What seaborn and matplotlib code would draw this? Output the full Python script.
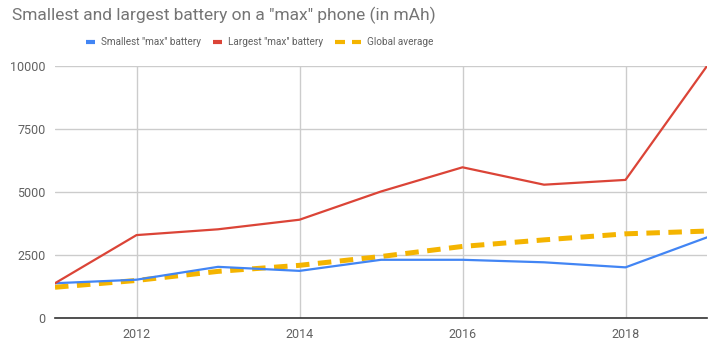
import matplotlib
matplotlib.use("Agg")
import matplotlib.pyplot as plt
import seaborn as sns
import pandas as pd
from matplotlib.lines import Line2D

years = [2011, 2012, 2013, 2014, 2015, 2016, 2017, 2018, 2019]
smallest = [1380, 1520, 2030, 1870, 2310, 2310, 2210, 2010, 3200]
largest = [1380, 3290, 3520, 3900, 5020, 5980, 5290, 5480, 10000]
global_avg = [1220, 1490, 1850, 2090, 2440, 2840, 3100, 3340, 3450]
series_names = ['Smallest "max" battery', 'Largest "max" battery', 'Global average']
y_ticks = [0, 2500, 5000, 7500, 10000]
x_ticks = [2012, 2014, 2016, 2018]

df = pd.DataFrame({
    "year": years * 3,
    "mah": smallest + largest + global_avg,
    "series": [series_names[0]] * len(years) + [series_names[1]] * len(years) + [series_names[2]] * len(years),
})

sns.set_theme(style="white")
plt.rcParams['font.family'] = ['Roboto', 'DejaVu Sans']

colors = {series_names[0]: "#4285F4", series_names[1]: "#DB4437", series_names[2]: "#F4B400"}

W, H = 727, 340
fig = plt.figure(figsize=(W / 100, H / 100), dpi=100)
ax = fig.add_axes([55 / W, 1 - 318 / H, (707 - 55) / W, (318 - 66) / H])

for name in series_names[:2]:
    sns.lineplot(data=df[df.series == name], x="year", y="mah", color=colors[name],
                 lw=1.6, ax=ax, legend=False)
sns.lineplot(data=df[df.series == series_names[2]], x="year", y="mah", color=colors[series_names[2]],
             lw=3.6, ax=ax, legend=False, zorder=1.5)
ax.lines[-1].set_dashes([2.7, 1.7])

ax.set_xlim(2011, 2019)
ax.set_ylim(0, 10000)
ax.set_xticks(x_ticks)
ax.set_xticklabels([str(x) for x in x_ticks])
ax.set_yticks(y_ticks)
ax.set_yticklabels([str(y) for y in y_ticks])
ax.grid(True, color="#cccccc", lw=1)
ax.set_axisbelow(True)
for s in ["left", "right", "top"]:
    ax.spines[s].set_visible(False)
ax.spines["bottom"].set_color("#333333")
ax.spines["bottom"].set_linewidth(1.2)
ax.tick_params(axis="both", length=0, labelsize=9, colors="#616161", pad=7)
ax.set_xlabel("")
ax.set_ylabel("")

fig.text(12 / W, 1 - 15 / H, 'Smallest and largest battery on a "max" phone (in mAh)',
         fontsize=12.5, color="#757575", va="center", ha="left")

# legend (manual, centred like the reference)
ly = 1 - 42 / H
renderer = fig.canvas.get_renderer()
texts = [fig.text(0, ly, n, fontsize=7.2, color="#616161", va="center", ha="left")
         for n in series_names]
widths = [t.get_window_extent(renderer).width for t in texts]
swatch = [9, 9, 26]
gap_sw, gap_item = 6, 12
total = sum(swatch) + 3 * gap_sw + sum(widths) + 2 * gap_item
x = 260 - total / 2
for i, name in enumerate(series_names):
    if i < 2:
        segs = [(x, x + 9)]
    else:
        segs = [(x, x + 9.5), (x + 16.5, x + 26)]
    for x0, x1 in segs:
        fig.add_artist(Line2D([x0 / W, x1 / W], [ly, ly], transform=fig.transFigure,
                              color=colors[name], lw=3, solid_capstyle="butt"))
    x += swatch[i] + gap_sw
    texts[i].set_x(x / W)
    x += widths[i] + gap_item

fig.savefig("out.png", dpi=100)
